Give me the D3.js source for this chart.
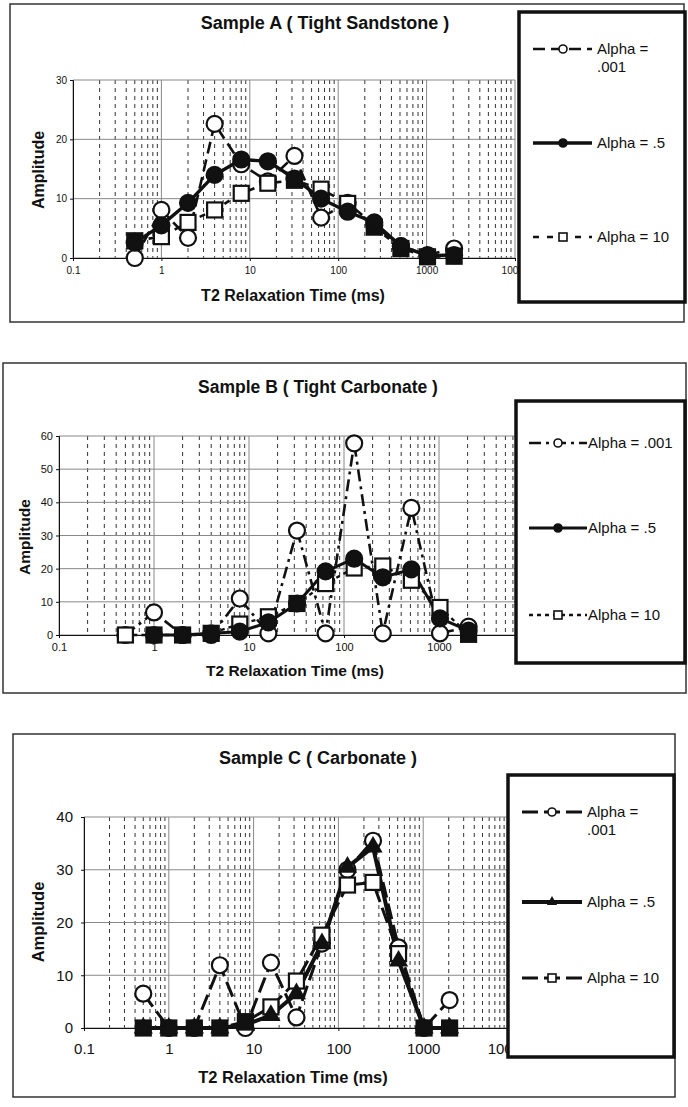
<!DOCTYPE html>
<html>
<head>
<meta charset="utf-8">
<script src="https://cdn.jsdelivr.net/npm/d3@7"></script>
<style>
body { margin: 0; background: #fff; }
svg text { font-family: Arial, "Liberation Sans", sans-serif; fill: #111; }
</style>
</head>
<body>
<svg id="page" width="688" height="1107"></svg>
<script>
// T2 bins (ms), same for all three samples
var t2Times = [0.5, 1, 2, 4, 8, 16, 32, 64, 128, 256, 512, 1024, 2048];
var xTickValues = [0.1, 1, 10, 100, 1000, 10000];
var xTickLabels = ["0.1", "1", "10", "100", "1000", "10000"];
var seriesLabels = ["Alpha = .001", "Alpha = .5", "Alpha = 10"];

// Sample A ( Tight Sandstone )
var sampleA_alpha001 = [0, 8.1, 3.4, 22.6, 15.8, 12.9, 17.2, 6.8, 9.3, 5.5, 2, 0.5, 1.6];
var sampleA_alpha05  = [2.6, 5.5, 9.3, 14, 16.6, 16.3, 13.4, 10, 7.8, 6, 2, 0.4, 0.5];
var sampleA_alpha10  = [2.9, 3.6, 6, 8.1, 10.9, 12.6, 13.1, 11.6, 9.2, 5.2, 1.6, 0.2, 0.3];

// Sample B ( Tight Carbonate )
var sampleB_alpha001 = [0, 6.8, 0, 0, 11, 0.5, 31.5, 0.5, 57.8, 0.5, 38.3, 0.5, 2.5];
var sampleB_alpha05  = [null, 0, 0, 0.5, 1, 3.8, 9.5, 19.2, 23, 17.4, 19.8, 5, 1.3];
var sampleB_alpha10  = [0, 0, 0, 0.5, 3.3, 5.5, 9.5, 15.5, 20.2, 20.8, 16.5, 8.3, 0.2];

// Sample C ( Carbonate )
var sampleC_alpha001 = [6.5, 0, 0, 11.9, 0, 12.4, 2, 16, 30, 35.5, 15.3, 0, 5.3];
var sampleC_alpha05  = [0, 0, 0, 0, 0.6, 2.4, 6.5, 16, 30.5, 34.3, 12.7, 0, 0];
var sampleC_alpha10  = [0, 0, 0, 0, 1.2, 4, 8.9, 17.6, 27.1, 27.6, 14.1, 0, 0];

var svg = d3.select("#page");

var drawMarker = function(sel, type, px, py, big) {
  var r = big ? 8 : 4;
  if (type == "openCircle" || type == "filledCircle") {
    sel.append("circle")
      .attr("cx", px).attr("cy", py).attr("r", r)
      .attr("fill", type == "filledCircle" ? "#111" : "#fff")
      .attr("stroke", "#111").attr("stroke-width", big ? 2.2 : 1.6);
  } else if (type == "triangle") {
    sel.append("path")
      .attr("d", d3.symbol().type(d3.symbolTriangle).size(big ? 160 : 45)())
      .attr("transform", "translate(" + px + "," + py + ")")
      .attr("fill", "#111");
  } else {
    var s = big ? 15 : 8;
    sel.append("rect")
      .attr("x", px - s / 2).attr("y", py - s / 2)
      .attr("width", s).attr("height", s)
      .attr("fill", type == "filledSquare" ? "#111" : "#fff")
      .attr("stroke", "#111").attr("stroke-width", big ? 2.2 : 1.6);
  }
};

var drawPanel = function(p) {
  var g = svg.append("g");

  // outer frame
  g.append("rect")
    .attr("x", p.box[0]).attr("y", p.box[1])
    .attr("width", p.box[2]).attr("height", p.box[3])
    .attr("fill", "#fff").attr("stroke", "#333").attr("stroke-width", 1.5);

  var x = d3.scaleLog().domain([0.1, 10000]).range([p.plot[0], p.plot[1]]);
  var y = d3.scaleLinear().domain([0, p.yMax]).range([p.plot[3], p.plot[2]]);
  var yTicks = d3.range(0, p.yMax + 1, 10);

  // minor (dashed) vertical grid
  var minor = [];
  [0.1, 1, 10, 100, 1000].forEach(function(d) {
    for (var k = 2; k < 10; k++) minor.push(d * k);
  });
  g.selectAll(".minor").data(minor).enter().append("line")
    .attr("x1", x).attr("x2", x)
    .attr("y1", y(p.yMax)).attr("y2", y(0))
    .attr("stroke", "#333").attr("stroke-width", 1)
    .attr("stroke-dasharray", "4,4");

  // major grid
  g.selectAll(".vmajor").data(xTickValues).enter().append("line")
    .attr("x1", x).attr("x2", x)
    .attr("y1", y(p.yMax)).attr("y2", y(0))
    .attr("stroke", "#888").attr("stroke-width", 1);
  g.selectAll(".hmajor").data(yTicks).enter().append("line")
    .attr("x1", x(0.1)).attr("x2", x(10000))
    .attr("y1", y).attr("y2", y)
    .attr("stroke", "#888").attr("stroke-width", 1);

  // axes
  var ax = g.append("g")
    .attr("transform", "translate(0," + y(0) + ")")
    .call(d3.axisBottom(x)
      .tickValues(xTickValues)
      .tickFormat(function(d, i) { return xTickLabels[i]; })
      .tickSize(3).tickPadding(p.xPad));
  var ay = g.append("g")
    .attr("transform", "translate(" + x(0.1) + ",0)")
    .call(d3.axisLeft(y).tickValues(yTicks).tickSize(3).tickPadding(p.yPad));
  [ax, ay].forEach(function(a) {
    a.selectAll("text").style("font-size", p.tickFont + "px").attr("fill", "#111");
    a.selectAll("path, line").attr("stroke", "#111");
  });

  // titles
  g.append("text")
    .attr("x", p.titlePos[0]).attr("y", p.titlePos[1])
    .attr("text-anchor", "middle")
    .style("font-size", p.titleFont + "px").style("font-weight", "bold")
    .text(p.title);
  g.append("text")
    .attr("x", p.xLabelPos[0]).attr("y", p.xLabelPos[1])
    .attr("text-anchor", "middle")
    .style("font-size", p.labelFont + "px").style("font-weight", "bold")
    .text("T2 Relaxation Time (ms)");
  g.append("text")
    .attr("transform", "translate(" + p.yLabelPos[0] + "," + p.yLabelPos[1] + ") rotate(-90)")
    .attr("text-anchor", "middle").attr("dy", "0.35em")
    .style("font-size", p.labelFont + "px").style("font-weight", "bold")
    .text("Amplitude");

  // series lines
  var line = d3.line()
    .defined(function(d) { return d[1] != null; })
    .x(function(d) { return x(d[0]); })
    .y(function(d) { return y(d[1]); });
  var order = [0, 2, 1];
  order.forEach(function(i) {
    var s = p.series[i];
    g.append("path")
      .datum(t2Times.map(function(t, j) { return [t, s.values[j]]; }))
      .attr("fill", "none").attr("stroke", "#111")
      .attr("stroke-width", s.width)
      .attr("stroke-dasharray", s.dash)
      .attr("stroke-linejoin", "round")
      .attr("d", line);
  });

  // markers
  var mid = p.series[1].values;
  order.forEach(function(i) {
    var s = p.series[i];
    s.values.forEach(function(v, j) {
      if (v == null) return;
      var type = s.marker;
      // where the square sits right under a filled marker, the print shows it solid
      if (type == "openSquare" && mid[j] != null && Math.abs(mid[j] - v) < 1.2) type = "filledSquare";
      drawMarker(g, type, x(t2Times[j]), y(v), true);
    });
  });

  // legend
  var L = p.legend;
  g.append("rect")
    .attr("x", L.box[0]).attr("y", L.box[1])
    .attr("width", L.box[2]).attr("height", L.box[3])
    .attr("fill", "#fff").attr("stroke", "#111").attr("stroke-width", 3.5);
  p.series.forEach(function(s, i) {
    var ly = L.ys[i];
    g.append("line")
      .attr("x1", L.x1).attr("x2", L.x2).attr("y1", ly).attr("y2", ly)
      .attr("stroke", "#111").attr("stroke-width", s.width)
      .attr("stroke-dasharray", s.dash);
    drawMarker(g, s.marker, L.xm, ly, false);
    var parts = (L.wrap && i == 0) ? ["Alpha =", ".001"] : [seriesLabels[i]];
    parts.forEach(function(t, k) {
      g.append("text")
        .attr("x", L.tx).attr("y", ly + 5 + k * 18)
        .style("font-size", L.font + "px")
        .text(t);
    });
  });
};

drawPanel({
  title: "Sample A ( Tight Sandstone )",
  box: [10, 4, 674, 318],
  plot: [73, 515, 80, 258],
  yMax: 30,
  tickFont: 10, xPad: 6, yPad: 3,
  titleFont: 18, labelFont: 16,
  titlePos: [325, 29], xLabelPos: [293, 301], yLabelPos: [38, 170],
  series: [
    { values: sampleA_alpha001, marker: "openCircle", dash: "12,6", width: 2.6 },
    { values: sampleA_alpha05, marker: "filledCircle", dash: null, width: 3.4 },
    { values: sampleA_alpha10, marker: "openSquare", dash: "6,8", width: 2.6 }
  ],
  legend: { box: [519, 12, 166, 290], x1: 533, x2: 592, xm: 563, tx: 597,
            ys: [49, 143, 237], font: 15, wrap: true }
});

drawPanel({
  title: "Sample B ( Tight Carbonate )",
  box: [3, 363, 683, 330],
  plot: [59, 534, 436, 635],
  yMax: 60,
  tickFont: 11, xPad: 5, yPad: 3,
  titleFont: 17.5, labelFont: 15.5,
  titlePos: [318, 393], xLabelPos: [295, 676], yLabelPos: [25, 537],
  series: [
    { values: sampleB_alpha001, marker: "openCircle", dash: "12,5,3,5", width: 2.6 },
    { values: sampleB_alpha05, marker: "filledCircle", dash: null, width: 3 },
    { values: sampleB_alpha10, marker: "openSquare", dash: "4,4", width: 2.4 }
  ],
  legend: { box: [516, 401, 169, 262], x1: 529, x2: 587, xm: 558, tx: 588,
            ys: [443, 528, 615], font: 15, wrap: false }
});

drawPanel({
  title: "Sample C ( Carbonate )",
  box: [13, 734, 662, 363],
  plot: [84, 508, 817, 1028],
  yMax: 40,
  tickFont: 15, xPad: 12, yPad: 8,
  titleFont: 18, labelFont: 16.5,
  titlePos: [318, 764], xLabelPos: [293, 1083], yLabelPos: [38, 922],
  series: [
    { values: sampleC_alpha001, marker: "openCircle", dash: "16,6", width: 3 },
    { values: sampleC_alpha05, marker: "triangle", dash: null, width: 4 },
    { values: sampleC_alpha10, marker: "openSquare", dash: "16,6", width: 3 }
  ],
  legend: { box: [508, 775, 166, 282], x1: 522, x2: 582, xm: 552, tx: 587,
            ys: [812, 902, 978], font: 15, wrap: true }
});
</script>
</body>
</html>
